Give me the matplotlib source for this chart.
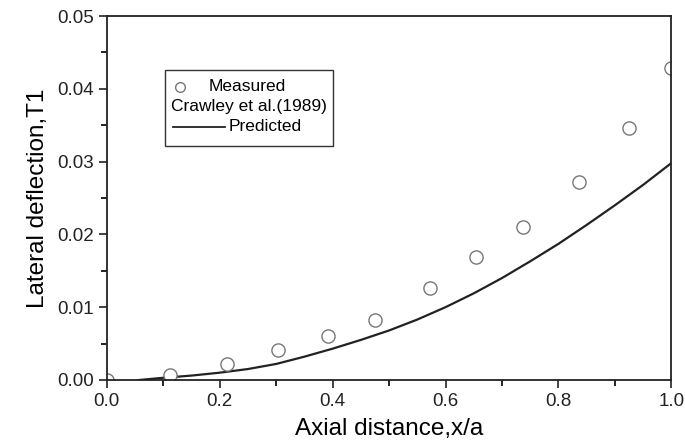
import matplotlib.pyplot as plt
from matplotlib.patches import Rectangle

plt.rcParams['font.family'] = ['Liberation Sans', 'DejaVu Sans']

# measured points (Crawley et al. 1989)
meas_x = [0.0, 0.112, 0.212, 0.303, 0.392, 0.475, 0.573, 0.654, 0.737, 0.837, 0.925, 1.0]
meas_y = [0.0, 0.0007, 0.0022, 0.0041, 0.0060, 0.0082, 0.0126, 0.0169, 0.0210, 0.0272, 0.0346, 0.0429]

# predicted curve
pred_x = [0.058, 0.1, 0.15, 0.2, 0.25, 0.3, 0.35, 0.4, 0.45, 0.5, 0.55, 0.6, 0.65,
          0.7, 0.75, 0.8, 0.85, 0.9, 0.95, 1.0]
pred_y = [0.0, 0.0003, 0.0006, 0.0010, 0.0015, 0.0022, 0.0032, 0.0043, 0.0055, 0.0068,
          0.0083, 0.0100, 0.0119, 0.0140, 0.0163, 0.0187, 0.0213, 0.0240, 0.0268, 0.0298]

fig = plt.figure(figsize=(6.85, 4.47), dpi=100)
ax = fig.add_axes([0.156, 0.15, 0.824, 0.814])

ax.plot(pred_x, pred_y, color='#222222', lw=1.6)
ax.plot(meas_x, meas_y, 'o', mfc='white', mec='#777777', mew=1.0, ms=9.5, ls='none')

ax.set_xlim(0, 1.0)
ax.set_ylim(0, 0.05)
ax.set_xticks([0.0, 0.2, 0.4, 0.6, 0.8, 1.0])
ax.set_xticks([0.1, 0.3, 0.5, 0.7, 0.9], minor=True)
ax.set_yticks([0.0, 0.01, 0.02, 0.03, 0.04, 0.05])
ax.set_yticks([0.005, 0.015, 0.025, 0.035, 0.045], minor=True)
ax.xaxis.set_major_formatter(plt.FormatStrFormatter('%.1f'))
ax.yaxis.set_major_formatter(plt.FormatStrFormatter('%.2f'))
ax.tick_params(which='major', direction='out', length=6, width=1.2, labelsize=13.5, colors='#222222')
ax.tick_params(which='minor', direction='out', length=4, width=1.2)
for s in ax.spines.values():
    s.set_linewidth(1.3)
    s.set_color('#222222')

ax.set_xlabel('Axial distance,x/a', fontsize=17.5, labelpad=6)
ax.set_ylabel('Lateral deflection,T1', fontsize=17.5, labelpad=6)

# legend box drawn by hand
tr = ax.transAxes
ax.add_patch(Rectangle((0.103, 0.643), 0.297, 0.209, transform=tr, fill=False,
                       lw=1.0, ec='#333333', zorder=5))
ax.plot([0.13], [0.806], 'o', transform=tr, mfc='white', mec='#777777', mew=1.0, ms=7,
        clip_on=False, zorder=6)
ax.text(0.18, 0.806, 'Measured', transform=tr, fontsize=12.5, va='center', ha='left')
ax.text(0.114, 0.751, 'Crawley et al.(1989)', transform=tr, fontsize=12.5, va='center', ha='left')
ax.plot([0.117, 0.21], [0.696, 0.696], transform=tr, color='#222222', lw=1.3, zorder=6)
ax.text(0.215, 0.696, 'Predicted', transform=tr, fontsize=12.5, va='center', ha='left')

fig.savefig('out.png', dpi=100)
